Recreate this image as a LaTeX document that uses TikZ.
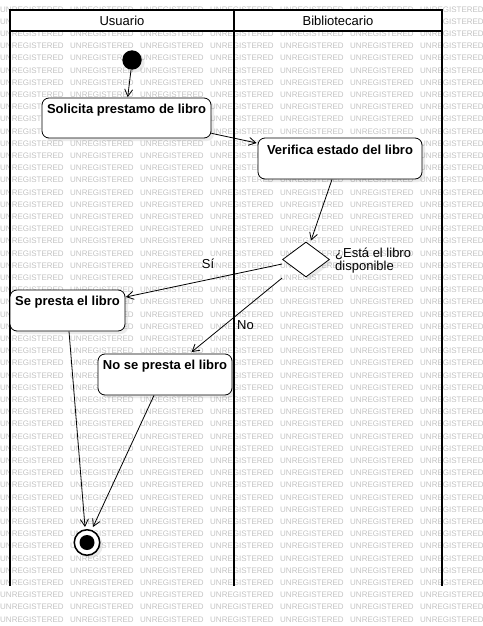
\documentclass[tikz,border=0pt]{standalone}
\usepackage{fontspec}
\setmainfont{Liberation Sans}
\usetikzlibrary{arrows.meta,shapes.geometric,shadows,calc}
\tikzset{
  wm/.style={anchor=west,inner sep=0pt,text=black!24,font=\fontsize{8}{9}\selectfont},
  lane/.style={line width=2pt,line cap=rect},
  shad/.style={drop shadow={shadow xshift=3pt,shadow yshift=-3pt,opacity=0.08,fill=black}},
  actbox/.style={draw,line width=0.8pt,fill=white,rounded corners=7pt,inner sep=0pt,shad},
  acttext/.style={inner sep=0pt,font=\fontsize{13}{13}\selectfont\bfseries},
  lanetext/.style={inner sep=0pt,font=\fontsize{13}{13}\selectfont},
  lbl/.style={inner sep=0pt,font=\fontsize{13}{13}\selectfont},
  conn/.style={draw,line width=0.8pt,-{Straight Barb[length=7pt,width=8pt]}},
}
\begin{document}
\begin{tikzpicture}[x=1pt,y=-1pt]
\useasboundingbox (0,0) rectangle (482,626);
% watermark
\foreach \r in {0,...,50}{
  \foreach \c in {0,...,6}{
    \node[wm] (w\r-\c) at (\c*70, 9.4+\r*12.2) {UNREGISTERED};
  }
}
% swimlanes
\fill[white] (10,10) rectangle (442,31);
\draw[lane] (10,10) -- (442,10);
\draw[lane] (10,31) -- (442,31);
\draw[lane] (10,10) -- (10,585);
\draw[lane] (234,10) -- (234,585);
\draw[lane] (442,10) -- (442,585);
\node[lanetext] (hu) at (122,20.5) {Usuario};
\node[lanetext] (hb) at (338,20.5) {Bibliotecario};
% nodes
\node[circle,fill=black,minimum size=19.4pt,inner sep=0pt,shad] (start) at (132,60) {};
\node[actbox,minimum width=169pt,minimum height=40pt] (solic) at (126.5,118) {};
\node[acttext] (tsolic) at ($(solic.north)+(0,12.5)$) {Solicita prestamo de libro};
\node[actbox,minimum width=164pt,minimum height=41pt] (verif) at (340,158.5) {};
\node[acttext] (tverif) at ($(verif.north)+(0,12.5)$) {Verifica estado del libro};
\node[diamond,draw,line width=0.8pt,fill=white,minimum width=47pt,minimum height=35pt,inner sep=0pt,shad] (dec) at (306,259.5) {};
\node[lbl,anchor=west,align=left] (tdec) at (335,260.3) {¿Está el libro\\disponible};
\node[actbox,minimum width=115pt,minimum height=41pt] (sep) at (67.5,310.5) {};
\node[acttext] (tsep) at ($(sep.north)+(0,12.5)$) {Se presta el libro};
\node[actbox,minimum width=134pt,minimum height=41pt] (nosep) at (165,374.5) {};
\node[acttext] (tnosep) at ($(nosep.north)+(0,12.5)$) {No se presta el libro};
\node[circle,draw,line width=1.5pt,fill=white,minimum size=25.5pt,inner sep=0pt,shad] (end) at (87,542.5) {};
\node[circle,fill=black,minimum size=15pt,inner sep=0pt] (endin) at (end.center) {};
% connectors
\draw[conn] ($(start.center)+(-1,10)$) -- ($(solic.north)+(1.2,-0.5)$);
\draw[conn] ($(solic.east)+(0,15.3)$) -- ($(verif.west)+(-1,-15.5)$);
\draw[conn] ($(verif.south)+(-8,0)$) -- ($(dec.north)+(5,-1)$);
\draw[conn] ($(dec.west)+(0,4.5)$) -- ($(sep.east)+(0.5,-13.5)$);
\node[lbl] (lsi) at (208,263.5) {Sí};
\draw[conn] ($(dec.west)+(0,18.5)$) -- ($(nosep.north)+(26.5,-1.5)$);
\node[lbl] (lno) at (245.5,325.5) {No};
\draw[conn] ($(sep.south)+(1.5,0)$) -- ($(end.center)+(-2,-15.5)$);
\draw[conn] ($(nosep.south)+(-11,0)$) -- ($(end.center)+(6,-15.5)$);
\end{tikzpicture}
\end{document}
